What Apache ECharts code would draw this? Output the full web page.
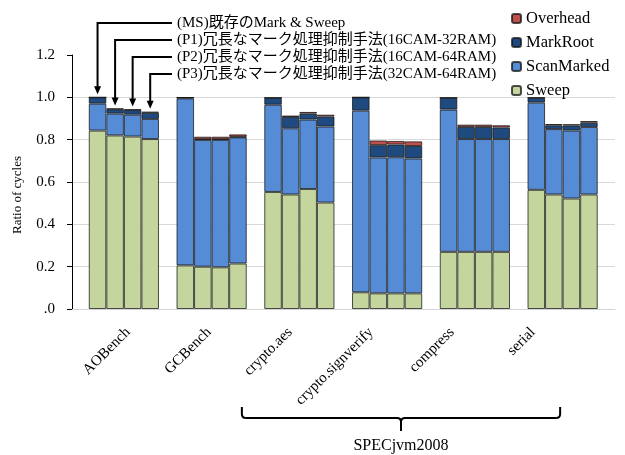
<!DOCTYPE html>
<html>
<head>
<meta charset="utf-8">
<script src="https://cdn.jsdelivr.net/npm/echarts@6/dist/echarts.min.js"></script>
<style>
  html, body { margin: 0; padding: 0; background: #fff; }
  #chart { width: 625px; height: 455px; }
</style>
</head>
<body>
<div id="chart"></div>
<script>
// Benchmarks on the category axis
const categories = ['AOBench', 'GCBench', 'crypto.aes', 'crypto.signverify', 'compress', 'serial'];

// Four GC configurations, drawn side by side inside every benchmark
const configs = ['MS', 'P1', 'P2', 'P3'];
const configLabels = [
  '(MS)既存のMark & Sweep',
  '(P1)冗長なマーク処理抑制手法(16CAM-32RAM)',
  '(P2)冗長なマーク処理抑制手法(16CAM-64RAM)',
  '(P3)冗長なマーク処理抑制手法(32CAM-64RAM)'
];

// Cycle ratio components; one row per configuration (MS, P1, P2, P3)
const sweep = [
  [0.843, 0.206, 0.553, 0.079, 0.270, 0.563],
  [0.820, 0.200, 0.541, 0.074, 0.270, 0.541],
  [0.815, 0.197, 0.567, 0.074, 0.270, 0.522],
  [0.803, 0.215, 0.503, 0.074, 0.270, 0.541]
];
const scanMarked = [
  [0.127, 0.789, 0.412, 0.858, 0.672, 0.412],
  [0.103, 0.599, 0.313, 0.642, 0.533, 0.309],
  [0.103, 0.602, 0.328, 0.643, 0.533, 0.321],
  [0.095, 0.596, 0.359, 0.637, 0.533, 0.319]
];
const markRoot = [
  [0.030, 0.004, 0.033, 0.063, 0.056, 0.023],
  [0.021, 0.003, 0.053, 0.058, 0.057, 0.018],
  [0.022, 0.003, 0.028, 0.060, 0.057, 0.024],
  [0.029, 0.003, 0.047, 0.059, 0.054, 0.020]
];
const overhead = [
  [0.000, 0.000, 0.000, 0.000, 0.000, 0.000],
  [0.003, 0.012, 0.007, 0.022, 0.011, 0.006],
  [0.003, 0.012, 0.008, 0.017, 0.011, 0.006],
  [0.005, 0.011, 0.009, 0.022, 0.011, 0.008]
];

// Y axis ticks
const yMin = 0, yMax = 1.2, yStep = 0.2;

const components = [
  { name: 'Sweep', data: sweep, color: '#c4d69d' },
  { name: 'ScanMarked', data: scanMarked, color: '#568cd5' },
  { name: 'MarkRoot', data: markRoot, color: '#1f4a7f' },
  { name: 'Overhead', data: overhead, color: '#c0504d' }
];

const FONT = '"Liberation Serif", "Times New Roman", "Noto Sans CJK JP", serif';

const series = [];
configs.forEach((cfg, ci) => {
  components.forEach(comp => {
    series.push({
      type: 'bar',
      name: comp.name,
      stack: cfg,
      xAxisIndex: 1,
      yAxisIndex: 1,
      barGap: '0%',
      barCategoryGap: '20%',
      itemStyle: { color: comp.color, borderColor: 'rgba(20,20,20,0.75)', borderWidth: 1 },
      emphasis: { disabled: true },
      data: comp.data[ci]
    });
  });
});

const chart = echarts.init(document.getElementById('chart'), null, { renderer: 'canvas' });

const gridTop = 55, gridBottom = 146;

chart.setOption({
  animation: false,
  backgroundColor: '#fff',
  textStyle: { fontFamily: FONT },
  legend: {
    data: ['Overhead', 'MarkRoot', 'ScanMarked', 'Sweep'],
    orient: 'vertical',
    left: 506,
    top: 5,
    itemWidth: 9,
    itemHeight: 9,
    itemGap: 7,
    selectedMode: false,
    textStyle: { fontFamily: FONT, fontSize: 16.5, color: '#000', lineHeight: 17 }
  },
  grid: [
    // axis frame: value axis line, ticks and gridlines
    { left: 72, right: 10, top: gridTop, bottom: gridBottom },
    // stacked bars
    { left: 80, right: 18.5, top: gridTop, bottom: gridBottom },
    // rotated benchmark names
    { left: 87.5, right: 51.5, top: gridTop, bottom: gridBottom }
  ],
  xAxis: [
    {
      type: 'value', gridIndex: 0, min: 0, max: 1,
      axisLine: { show: true, lineStyle: { color: '#d4d4d4', width: 1 } },
      axisTick: { show: false }, axisLabel: { show: false }, splitLine: { show: false }
    },
    {
      type: 'category', gridIndex: 1, data: categories,
      axisLine: { show: false }, axisTick: { show: false }, axisLabel: { show: false }
    },
    {
      type: 'category', gridIndex: 2, data: categories,
      axisLine: { show: false }, axisTick: { show: false },
      axisLabel: { rotate: 45, margin: 21, fontSize: 15, color: '#000', fontFamily: FONT }
    }
  ],
  yAxis: [
    {
      type: 'value', gridIndex: 0, min: yMin, max: yMax, interval: yStep,
      axisLine: { show: true, lineStyle: { color: '#000', width: 1 } },
      axisTick: { show: true, inside: false, length: 5, lineStyle: { color: '#000' } },
      axisLabel: {
        margin: 17, fontSize: 15, color: '#000', fontFamily: FONT,
        formatter: v => (v === 0 ? '.0' : v.toFixed(1))
      },
      splitLine: {
        show: true,
        lineStyle: { color: ['#d9d9d9', '#d9d9d9', '#d9d9d9', '#d9d9d9', '#d9d9d9', '#d9d9d9', 'rgba(0,0,0,0)'], width: 1 }
      }
    },
    { type: 'value', gridIndex: 1, min: yMin, max: yMax, interval: yStep, show: false, splitLine: { show: false } },
    { type: 'value', gridIndex: 2, min: yMin, max: yMax, interval: yStep, show: false, splitLine: { show: false } }
  ],
  series: series
});

// ---- Annotations: configuration callouts, y-axis title and the SPECjvm2008 brace ----
function px(catIdx, value) {
  return chart.convertToPixel({ gridIndex: 1 }, [catIdx, value]);
}
const c0 = px(0, 0), c1 = px(1, 0);
const catW = c1[0] - c0[0];
const groupW = catW * 0.8;
const barW = groupW / configs.length;

const graphics = [];
const textX = 177;
const lineYs = [23, 40, 57, 74];
const black = { stroke: '#000', lineWidth: 2, fill: null };

configs.forEach((cfg, ci) => {
  const total = sweep[ci][0] + scanMarked[ci][0] + markRoot[ci][0] + overhead[ci][0];
  const bx = c0[0] - groupW / 2 + barW * (ci + 0.5);
  const tipY = px(0, total)[1] - 3;
  const ly = lineYs[ci];
  graphics.push({
    type: 'polyline',
    shape: { points: [[textX - 5, ly], [bx, ly], [bx, tipY - 7]] },
    style: black
  });
  graphics.push({
    type: 'polygon',
    shape: { points: [[bx - 3.5, tipY - 8], [bx + 3.5, tipY - 8], [bx, tipY]] },
    style: { fill: '#000' }
  });
  graphics.push({
    type: 'text',
    x: textX, y: ly,
    style: {
      text: configLabels[ci], fontSize: 15, fontFamily: FONT, fill: '#000',
      align: 'left', verticalAlign: 'middle'
    }
  });
});

// y-axis title
graphics.push({
  type: 'text',
  x: 18, y: 195,
  rotation: Math.PI / 2,
  style: {
    text: 'Ratio of cycles', fontSize: 13, fontFamily: FONT, fill: '#000',
    align: 'center', verticalAlign: 'middle'
  }
});

// Brace grouping the SPECjvm2008 benchmarks
const aesX = px(2, 0)[0];
const serialX = px(5, 0)[0];
const L = aesX - 57.5, R = serialX - 2.5, C = (L + R) / 2;
const yt = 407, yh = 418, ytip = 431, r = 4;
const seg = (x1, y1, x2, y2) => ({ type: 'line', shape: { x1, y1, x2, y2 }, style: black });
const bend = (x1, y1, cx, cy, x2, y2) => ({
  type: 'bezierCurve', shape: { x1, y1, cpx1: cx, cpy1: cy, x2, y2 }, style: black
});
graphics.push(
  seg(L, yt, L, yh - r),
  bend(L, yh - r, L, yh, L + r, yh),
  seg(L + r, yh, C - r, yh),
  bend(C - r, yh, C, yh, C, yh + r),
  bend(C, yh + r, C, yh, C + r, yh),
  seg(C, yh + r, C, ytip),
  seg(C + r, yh, R - r, yh),
  bend(R - r, yh, R, yh, R, yh - r),
  seg(R, yh - r, R, yt)
);
graphics.push({
  type: 'text',
  x: C, y: 446,
  style: {
    text: 'SPECjvm2008', fontSize: 16, fontFamily: FONT, fill: '#000',
    align: 'center', verticalAlign: 'middle'
  }
});

chart.setOption({ graphic: { elements: graphics } });
</script>
</body>
</html>
